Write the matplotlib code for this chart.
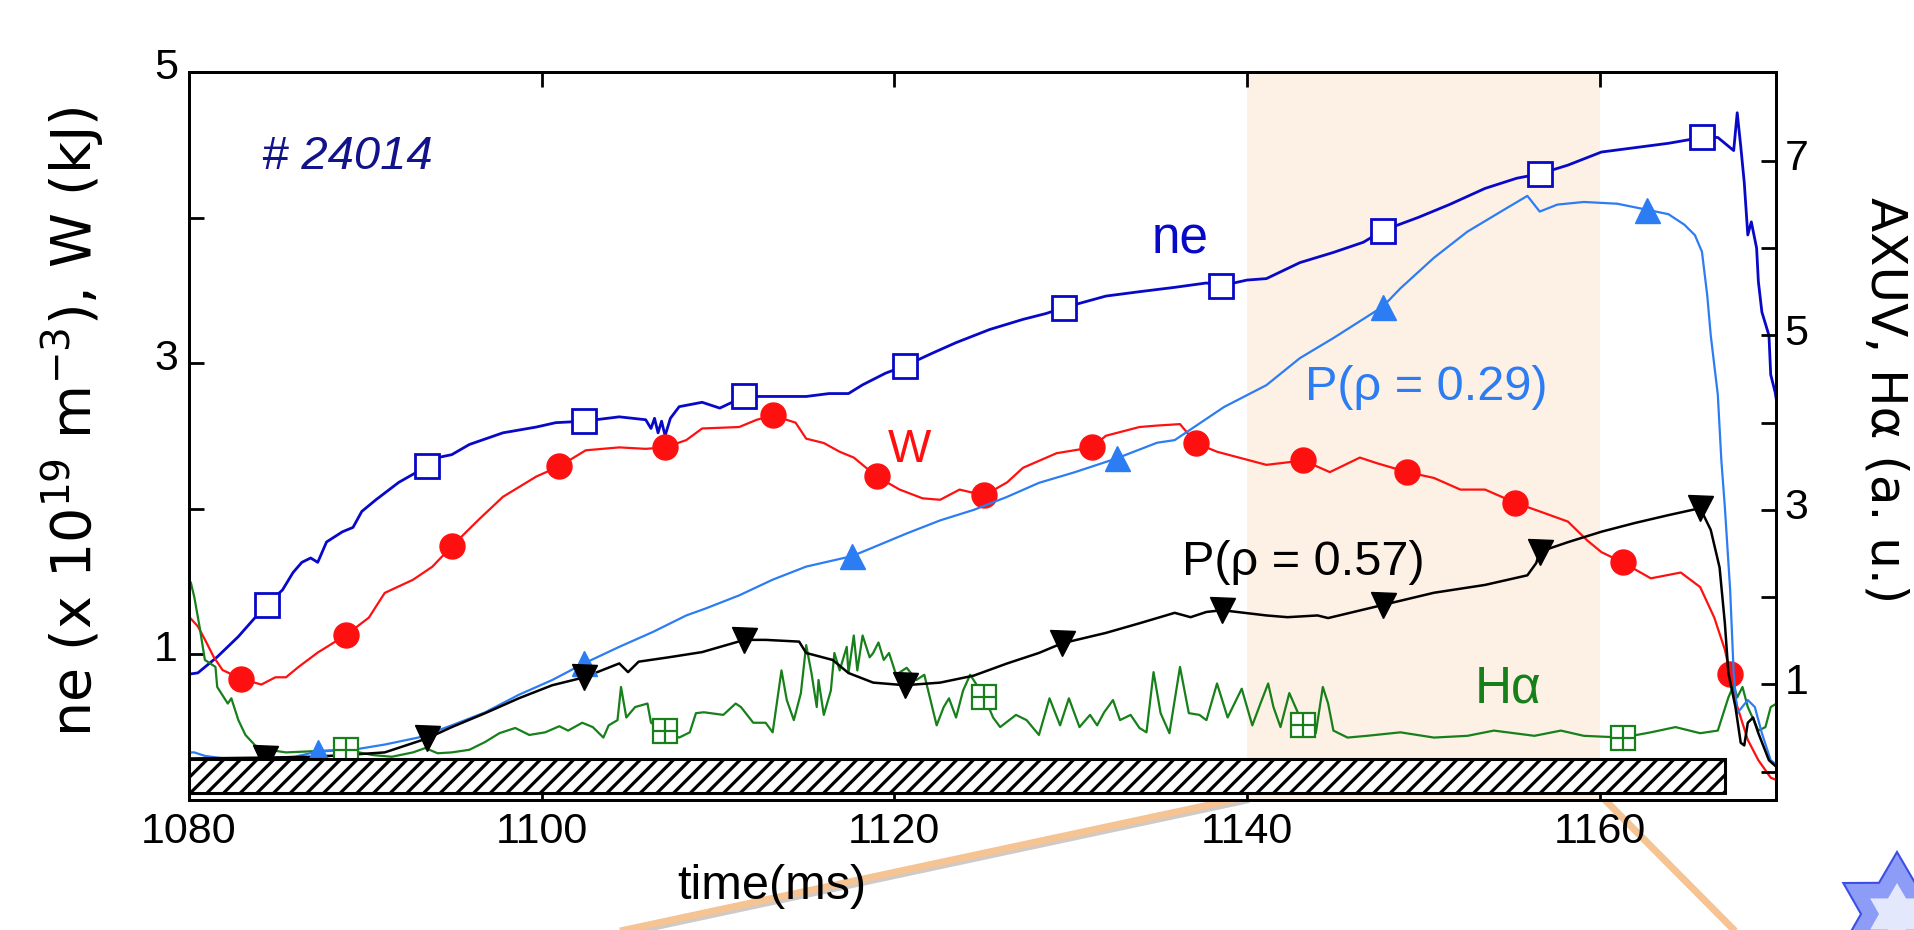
import numpy as np
import matplotlib
matplotlib.use("Agg")
import matplotlib.pyplot as plt
from matplotlib.lines import Line2D
from matplotlib.patches import Polygon
from matplotlib.transforms import ScaledTranslation

plt.rcParams['font.family'] = ['Liberation Sans', 'DejaVu Sans']

# ---- values (time in ms) ----
# left axis: ne (x1e19 m^-3) and W (kJ)
ne_t = [1079.9, 1080.5, 1081.6, 1082.8, 1084.4, 1085.3, 1085.9, 1086.4, 1086.9, 1087.3,
        1087.8, 1088.7, 1089.3, 1089.8, 1090.6, 1091.9, 1093.5, 1094.1, 1094.9, 1095.9,
        1097.8, 1099.7, 1100.8, 1102.4, 1104.4, 1105.9, 1106.2, 1106.4, 1106.6, 1106.8,
        1107.0, 1107.3, 1107.8, 1109.1, 1110.1, 1111.5, 1113.1, 1115.0, 1116.3, 1117.4,
        1118.2, 1119.5, 1120.6, 1122.2, 1123.5, 1125.4, 1127.3, 1128.6, 1129.6, 1132.0,
        1133.9, 1135.9, 1137.7, 1138.5, 1140.0, 1141.1, 1143.0, 1144.9, 1146.6, 1147.7,
        1149.7, 1151.5, 1153.5, 1155.3, 1156.6, 1158.2, 1160.1, 1162.0, 1163.9, 1165.8,
        1166.7, 1167.6, 1167.8, 1168.0, 1168.2, 1168.4, 1168.6, 1168.9, 1169.0, 1169.2,
        1169.6, 1169.7, 1169.95, 1170.3]
ne_v = [0.86, 0.87, 0.98, 1.12, 1.34, 1.44, 1.56, 1.63, 1.66, 1.63,
        1.77, 1.84, 1.87, 1.98, 2.06, 2.18, 2.29, 2.35, 2.37, 2.44,
        2.52, 2.56, 2.59, 2.60, 2.63, 2.61, 2.55, 2.62, 2.52, 2.60,
        2.50, 2.62, 2.70, 2.73, 2.69, 2.77, 2.77, 2.77, 2.79, 2.79,
        2.85, 2.93, 2.98, 3.07, 3.14, 3.23, 3.30, 3.34, 3.38, 3.46,
        3.49, 3.52, 3.55, 3.53, 3.57, 3.58, 3.69, 3.76, 3.83, 3.91,
        4.00, 4.09, 4.20, 4.27, 4.30, 4.36, 4.45, 4.48, 4.51, 4.55,
        4.55, 4.46, 4.72, 4.49, 4.24, 3.88, 3.97, 3.79, 3.56, 3.35,
        3.19, 2.92, 2.80, 2.54]

w_t = [1079.9, 1080.5, 1080.9, 1081.4, 1081.9, 1082.95, 1084.1, 1084.9, 1085.5, 1086.2,
       1087.3, 1088.9, 1090.2, 1091.1, 1092.7, 1093.8, 1094.9, 1096.4, 1097.8, 1099.7,
       1101.0, 1102.5, 1104.4, 1105.9, 1107.0, 1108.2, 1109.1, 1111.2, 1112.2, 1113.1,
       1114.4, 1115.0, 1116.0, 1116.9, 1117.7, 1119.0, 1120.3, 1121.6, 1122.6, 1123.7,
       1125.1, 1126.4, 1127.3, 1129.2, 1130.2, 1131.2, 1132.0, 1133.9, 1134.9, 1136.2,
       1137.1, 1138.3, 1141.1, 1143.2, 1144.7, 1146.4, 1147.4, 1149.1, 1150.6, 1152.1,
       1153.5, 1155.2, 1156.6, 1158.2, 1159.3, 1160.1, 1161.3, 1162.9, 1164.6, 1165.7,
       1166.5, 1167.1, 1167.4, 1167.8, 1168.4, 1169.0, 1169.7, 1170.1]
w_v = [1.27, 1.19, 1.10, 0.98, 0.89, 0.83, 0.79, 0.84, 0.84, 0.91,
       1.01, 1.13, 1.25, 1.42, 1.51, 1.60, 1.74, 1.92, 2.08, 2.22,
       2.29, 2.40, 2.42, 2.41, 2.42, 2.47, 2.55, 2.56, 2.61, 2.64,
       2.59, 2.48, 2.45, 2.39, 2.35, 2.22, 2.13, 2.07, 2.06, 2.13,
       2.09, 2.18, 2.28, 2.38, 2.40, 2.42, 2.50, 2.56, 2.57, 2.58,
       2.45, 2.39, 2.30, 2.33, 2.25, 2.35, 2.31, 2.25, 2.21, 2.13,
       2.13, 2.04, 1.98, 1.91, 1.78, 1.70, 1.63, 1.52, 1.56, 1.46,
       1.25, 1.03, 0.86, 0.64, 0.41, 0.27, 0.15, 0.13]

# right axis: AXUV P(rho=0.29), P(rho=0.57) and H-alpha (a.u.)
p29_t = [1079.9, 1080.3, 1080.9, 1082.0, 1084.0, 1086.0, 1087.3, 1089.3, 1091.1, 1093.0,
         1094.9, 1096.8, 1098.7, 1100.6, 1102.4, 1104.4, 1106.3, 1108.2, 1109.3, 1111.2,
         1113.1, 1115.0, 1117.6, 1118.8, 1120.7, 1122.6, 1124.5, 1126.4, 1128.2, 1130.2,
         1132.6, 1134.9, 1135.9, 1138.7, 1141.1, 1143.0, 1144.9, 1147.7, 1148.7, 1150.6,
         1152.5, 1154.4, 1155.9, 1156.6, 1157.6, 1159.1, 1161.0, 1162.7, 1163.9, 1164.8,
         1165.4, 1165.8, 1166.1, 1166.3, 1166.7, 1166.9, 1167.1, 1167.4, 1167.6, 1167.8,
         1168.4, 1168.8, 1169.2, 1169.7, 1170.1]
p29_v = [0.22, 0.22, 0.18, 0.15, 0.15, 0.17, 0.23, 0.25, 0.31, 0.39,
         0.53, 0.68, 0.88, 1.05, 1.24, 1.43, 1.60, 1.79, 1.87, 2.02,
         2.20, 2.35, 2.47, 2.57, 2.73, 2.88, 3.00, 3.15, 3.31, 3.43,
         3.59, 3.77, 3.80, 4.18, 4.43, 4.74, 4.97, 5.33, 5.54, 5.89,
         6.19, 6.42, 6.60, 6.42, 6.50, 6.53, 6.51, 6.44, 6.39, 6.27,
         6.15, 5.96, 5.46, 5.00, 4.32, 3.57, 3.03, 2.08, 1.13, 0.67,
         0.82, 0.74, 0.44, 0.13, 0.07]

p57_t = [1079.9, 1084.3, 1087.0, 1088.9, 1091.1, 1093.5, 1094.9, 1096.8, 1098.7, 1100.6,
         1102.4, 1104.4, 1104.9, 1105.5, 1107.2, 1109.1, 1111.5, 1112.7, 1114.6, 1115.0,
         1116.5, 1117.4, 1118.8, 1120.6, 1122.6, 1124.5, 1126.4, 1128.2, 1129.5, 1132.0,
         1133.9, 1135.9, 1136.8, 1137.7, 1138.6, 1141.1, 1142.3, 1144.0, 1144.6, 1147.7,
         1150.6, 1153.5, 1155.9, 1156.4, 1156.6, 1158.2, 1160.1, 1162.0, 1163.9, 1165.7,
         1166.3, 1166.8, 1167.1, 1167.3, 1167.7, 1168.0, 1168.2, 1168.4, 1168.7, 1169.0,
         1169.6, 1170.1]
p57_v = [0.15, 0.16, 0.17, 0.19, 0.22, 0.38, 0.51, 0.67, 0.84, 0.99,
         1.08, 1.24, 1.14, 1.26, 1.31, 1.37, 1.51, 1.51, 1.49, 1.36,
         1.28, 1.13, 1.02, 0.99, 1.02, 1.10, 1.24, 1.36, 1.47, 1.59,
         1.70, 1.82, 1.77, 1.83, 1.85, 1.79, 1.77, 1.79, 1.76, 1.91,
         2.05, 2.14, 2.25, 2.39, 2.52, 2.63, 2.75, 2.85, 2.94, 3.02,
         2.77, 2.34, 1.70, 1.13, 0.74, 0.33, 0.30, 0.56, 0.62, 0.44,
         0.13, 0.04]

ha_t = [1079.9, 1080.1, 1080.3, 1080.6, 1080.9, 1081.5, 1081.6, 1082.2, 1082.4, 1082.8,
        1083.2, 1083.75, 1084.5, 1085.5, 1088.9, 1090.4, 1091.5, 1092.7, 1093.4, 1094.1,
        1094.9, 1095.9, 1096.8, 1097.6, 1098.5, 1099.3, 1100.2, 1101.0, 1101.5, 1102.3,
        1102.9, 1103.5, 1103.8, 1104.3, 1104.5, 1104.8, 1105.3, 1106.0, 1106.2, 1107.0,
        1107.8, 1108.4, 1108.75, 1109.2, 1110.3, 1111.0, 1111.3, 1112.0, 1112.7, 1113.1,
        1113.6, 1113.9, 1114.3, 1114.7, 1115.0, 1115.3, 1115.6, 1115.7, 1116.0, 1116.4,
        1116.6, 1116.9, 1117.3, 1117.4, 1117.7, 1117.9, 1118.2, 1118.6, 1118.8, 1119.1,
        1119.4, 1119.7, 1120.1, 1120.7, 1121.25, 1121.7, 1122.4, 1122.8, 1123.1, 1123.5,
        1123.9, 1124.3, 1125.1, 1125.6, 1126.0, 1126.9, 1127.5, 1128.2, 1128.8, 1129.4,
        1129.9, 1130.5, 1131.1, 1131.5, 1131.9, 1132.4, 1132.8, 1133.4, 1133.9, 1134.3,
        1134.7, 1135.1, 1135.6, 1136.2, 1136.7, 1137.3, 1137.7, 1138.3, 1138.9, 1139.7,
        1140.3, 1140.8, 1141.2, 1141.5, 1141.9, 1142.4, 1143.2, 1143.9, 1144.3, 1144.6,
        1144.9, 1145.7, 1146.8, 1148.7, 1150.6, 1152.5, 1154.0, 1156.3, 1157.8, 1159.1,
        1161.3, 1162.9, 1164.3, 1165.7, 1166.7, 1167.3, 1167.6, 1167.8, 1168.1, 1168.4,
        1169.0, 1169.4, 1169.7, 1170.2]
ha_v = [1.85, 2.17, 2.00, 1.66, 1.28, 1.20, 0.97, 0.78, 0.84, 0.59,
        0.42, 0.30, 0.25, 0.22, 0.25, 0.19, 0.17, 0.22, 0.27, 0.21,
        0.22, 0.25, 0.34, 0.44, 0.50, 0.42, 0.45, 0.52, 0.47, 0.56,
        0.51, 0.39, 0.53, 0.59, 0.97, 0.62, 0.74, 0.78, 0.56, 0.46,
        0.39, 0.45, 0.67, 0.68, 0.65, 0.78, 0.74, 0.56, 0.56, 0.45,
        1.16, 0.82, 0.59, 0.90, 1.45, 1.13, 0.74, 1.05, 0.65, 0.93,
        1.36, 1.16, 1.43, 1.13, 1.56, 1.16, 1.56, 1.31, 1.36, 1.48,
        1.28, 1.36, 1.11, 1.19, 1.05, 1.11, 0.53, 0.74, 0.84, 0.62,
        0.93, 1.11, 0.86, 0.62, 0.51, 0.65, 0.59, 0.42, 0.84, 0.53,
        0.84, 0.51, 0.65, 0.53, 0.68, 0.82, 0.59, 0.65, 0.50, 0.45,
        1.14, 0.67, 0.44, 1.20, 0.67, 0.65, 0.59, 1.01, 0.62, 0.95,
        0.53, 0.80, 1.01, 0.74, 0.51, 0.90, 0.53, 0.44, 0.97, 0.78,
        0.47, 0.39, 0.41, 0.45, 0.39, 0.41, 0.47, 0.41, 0.47, 0.41,
        0.39, 0.45, 0.51, 0.44, 0.47, 0.85, 0.99, 0.85, 0.97, 0.74,
        0.47, 0.51, 0.74, 0.80]

# times where the symbols sit on each trace
ne_mark_t = [1084.4, 1093.5, 1102.4, 1111.5, 1120.6, 1129.6, 1138.5, 1147.7, 1156.6, 1165.8]
w_mark_t = [1082.95, 1088.9, 1094.9, 1101.0, 1107.0, 1113.1, 1119.0, 1125.1, 1131.2,
            1137.1, 1143.2, 1149.1, 1155.2, 1161.3, 1167.4]
p29_mark_t = [1087.3, 1102.4, 1117.6, 1132.6, 1147.7, 1162.7]
p57_mark_t = [1084.3, 1093.5, 1102.4, 1111.5, 1120.6, 1129.5, 1138.6, 1147.7, 1156.6, 1165.7]
ha_mark_t = [1088.9, 1107.0, 1125.1, 1143.2, 1161.3]

# analysis window and the hatched bar (time span, right-axis units)
window = (1140, 1160)
bar_t = (1080, 1167.1)
bar_y = (-0.25, 0.15)

c_ne = '#0808c8'
c_w = '#ff1010'
c_p29 = '#2c7cf4'
c_p57 = 'black'
c_ha = '#17801a'

fig = plt.figure(figsize=(19.14, 9.30), dpi=100)
ax = fig.add_axes([0.09875, 0.14032, 0.82915, 0.78226])
ax2 = ax.twinx()

ax.axvspan(window[0], window[1], color='#fdf0e5', lw=0, zorder=0)

ax.plot(ne_t, ne_v, color=c_ne, lw=2.0, zorder=2)
ax.plot(ne_mark_t, np.interp(ne_mark_t, ne_t, ne_v), ls='none', marker='s', ms=17,
        mfc='white', mec=c_ne, mew=2, zorder=3)
ax.plot(w_t, w_v, color=c_w, lw=1.6, zorder=2)
ax.plot(w_mark_t, np.interp(w_mark_t, w_t, w_v), ls='none', marker='o', ms=18,
        mfc=c_w, mec=c_w, zorder=3)

ax2.plot(ha_t, ha_v, color=c_ha, lw=1.6, zorder=2)
ha_my = np.interp(ha_mark_t, ha_t, ha_v)
ax2.plot(ha_mark_t, ha_my, ls='none', marker='s', ms=17, mfc='white', mec=c_ha, mew=1.6, zorder=3)
ax2.plot(ha_mark_t, ha_my, ls='none', marker='+', ms=17, mec=c_ha, mew=1.6, zorder=3)
ax2.plot(p29_t, p29_v, color=c_p29, lw=1.6, zorder=2)
ax2.plot(p29_mark_t, np.interp(p29_mark_t, p29_t, p29_v), ls='none', marker='^', ms=18,
         mfc=c_p29, mec=c_p29, zorder=3)
ax2.plot(p57_t, p57_v, color=c_p57, lw=1.8, zorder=2)
ax2.plot(p57_mark_t, np.interp(p57_mark_t, p57_t, p57_v), ls='none', marker='v', ms=18,
         mfc=c_p57, mec=c_p57, zorder=3)

plt.rcParams['hatch.linewidth'] = 2.3
ax2.bar(bar_t[0], bar_y[1] - bar_y[0], width=bar_t[1] - bar_t[0], bottom=bar_y[0],
        align='edge', facecolor='white', edgecolor='black', hatch='//', lw=2.2, zorder=6)

ax.set_xlim(1080, 1170)
ax.set_ylim(0, 5)
ax2.set_ylim(-0.32, 8.02)

ax.set_xticks([1080, 1100, 1120, 1140, 1160])
ax.set_yticks([1, 2, 3, 4, 5], ['1', '', '3', '', '5'])
ax2.set_yticks(range(8), ['', '1', '', '3', '', '5', '', '7'])

ax.tick_params(axis='both', direction='in', length=11, width=2, labelsize=31)
ax.tick_params(axis='x', top=True, pad=9)
ax.tick_params(axis='y', pad=8)
ax2.tick_params(axis='y', direction='in', length=11, width=2, labelsize=31, pad=6)
for a in (ax, ax2):
    for s in a.spines.values():
        s.set_linewidth(2)

ax.set_xlabel('time(ms)', fontsize=35, va='center')
ax.xaxis.set_label_coords(0.367, -0.120)
ax.set_ylabel('ne (x 10$^{19}$ m$^{-3}$), W (kJ)', fontsize=40, family='DejaVu Sans', va='center')
ax.yaxis.set_label_coords(-0.073, 0.52)
ax2.set_ylabel('AXUV, H\u03b1 (a. u.)', rotation=-90, fontsize=36, family='DejaVu Sans', va='center')
ax2.yaxis.set_label_coords(1.069, 0.549)

# in-plot annotations
ax.text(1084.15, 4.33, '# 24014', style='italic', color='#12128a', fontsize=34, va='baseline')
ax.text(1136.2, 3.756, 'ne', color=c_ne, fontsize=37, ha='center', va='baseline')
ax.text(1120.85, 2.32, 'W', color=c_w, fontsize=33, ha='center', va='baseline')
ax.text(1143.3, 2.746, 'P(\u03c1 = 0.29)', color=c_p29, fontsize=35, va='baseline')
ax.text(1136.3, 1.543, 'P(\u03c1 = 0.57)', color='black', fontsize=35, va='baseline')
ax.text(1152.9, 0.67, 'H\u03b1', color=c_ha, fontsize=37, va='baseline')

# slide decorations: callout lines from the window and a partial star
W_px, H_px = 1914.0, 930.0
for (x0, y0, x1, y1) in [(1246, 797, 606, 934), (1601, 796, 1738, 934)]:
    fig.add_artist(Line2D([(x0 + 3) / W_px, (x1 + 3) / W_px], [1 - (y0 + 3) / H_px, 1 - (y1 + 3) / H_px],
                          transform=fig.transFigure, color='#cfcac6', lw=4.5, zorder=-2,
                          solid_capstyle='butt'))
    fig.add_artist(Line2D([x0 / W_px, x1 / W_px], [1 - y0 / H_px, 1 - y1 / H_px],
                          transform=fig.transFigure, color='#f6c393', lw=5, zorder=-1,
                          solid_capstyle='butt'))

cx, cy, R, r = 1897, 914, 62, 36
ang = np.deg2rad(90 + 30 * np.arange(12))
rad = np.where(np.arange(12) % 2 == 0, R, r)
star = np.column_stack([(cx + rad * np.cos(ang)) / W_px, 1 - (cy - rad * np.sin(ang)) / H_px])
fig.add_artist(Polygon(star, closed=True, transform=fig.transFigure,
                       facecolor='#8d9cf6', edgecolor='#3c4ee6', lw=1.5))
star_in = np.column_stack([(cx + 0.5 * rad * np.cos(ang)) / W_px, 1 - (cy - 0.5 * rad * np.sin(ang)) / H_px])
fig.add_artist(Polygon(star_in, closed=True, transform=fig.transFigure,
                       facecolor='#e4e8fd', edgecolor='none'))

# the reference sets its y tick labels a little above the ticks
fig.canvas.draw()
for lab in ax.get_yticklabels():
    lab.set_transform(lab.get_transform() + ScaledTranslation(0, 0.09, fig.dpi_scale_trans))
for lab in ax2.get_yticklabels():
    lab.set_transform(lab.get_transform() + ScaledTranslation(0, 0.06, fig.dpi_scale_trans))

fig.savefig('out.png', dpi=100)
